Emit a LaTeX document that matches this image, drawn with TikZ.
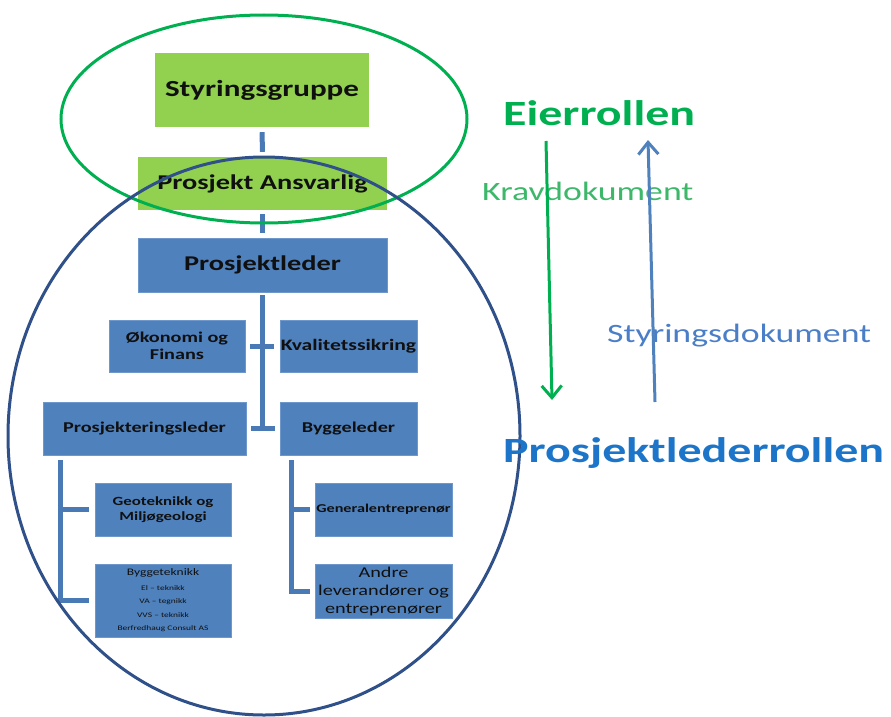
\documentclass[tikz,border=0pt]{standalone}
\usepackage{fontspec}
\setmainfont{Carlito}[FakeStretch=1.35]
\usetikzlibrary{arrows.meta}

\definecolor{boxgreen}{HTML}{92D050}
\definecolor{boxblue}{HTML}{4F81BD}
\definecolor{boxedge}{HTML}{6E97CC}
\definecolor{connblue}{HTML}{4A7AB5}
\definecolor{ringgreen}{HTML}{00B050}
\definecolor{ringblue}{HTML}{2F5088}
\definecolor{ownergreen}{HTML}{00B050}
\definecolor{reqgreen}{HTML}{3DB86A}
\definecolor{docblue}{HTML}{4A7EC8}
\definecolor{pmblue}{HTML}{1C75C8}
\definecolor{upblue}{HTML}{4F81BD}
\definecolor{boxtext}{HTML}{101010}

\newcommand{\fsz}[2]{\fontsize{#1}{#2}\selectfont}

\tikzset{
  gbox/.style={fill=boxgreen, inner sep=0pt, text=boxtext, align=center},
  bbox/.style={fill=boxblue, draw=boxedge, line width=0.8pt, inner sep=0pt, text=boxtext, align=center},
  conn/.style={draw=connblue, line width=5pt},
  ring/.style={line width=3pt},
  rolearrow/.style={line width=3pt, -{Straight Barb[length=12pt,width=20pt,line width=3pt]}},
}

\begin{document}
\begin{tikzpicture}[x=1pt, y=-1pt]
\useasboundingbox (0,0) rectangle (891,717);

% organisation boxes
\node[gbox, minimum width=214pt, minimum height=74pt, font=\bfseries\fsz{23}{27}] (styr) at (262,90)
  {Styringsgruppe};
\node[gbox, minimum width=249pt, minimum height=53pt, font=\bfseries\fsz{21}{25}] (pa) at (262.5,183.5)
  {Prosjekt Ansvarlig};
\node[bbox, minimum width=249pt, minimum height=54pt, font=\bfseries\fsz{21}{25}] (pl) at (262.5,265)
  {Prosjektleder};
\node[bbox, minimum width=136pt, minimum height=52pt, font=\bfseries\fsz{15}{17}] (oko) at (177,346)
  {Økonomi og\\Finans};
\node[bbox, minimum width=137pt, minimum height=52pt, font=\bfseries\fsz{16}{19}] (kval) at (348.5,346)
  {Kvalitetssikring};
\node[bbox, minimum width=203pt, minimum height=53pt, font=\bfseries\fsz{15}{18}] (prl) at (144.5,428.5)
  {Prosjekteringsleder};
\node[bbox, minimum width=137pt, minimum height=53pt, font=\bfseries\fsz{15}{18}] (bygl) at (348.5,428.5)
  {Byggeleder};
\node[bbox, minimum width=136pt, minimum height=53pt, font=\bfseries\fsz{12.5}{15}] (geo) at (163,509.5)
  {Geoteknikk og\\Miljøgeologi};
\node[bbox, minimum width=136pt, minimum height=73pt, font=\fsz{7}{13.5}] (byt) at (163,600.5)
  {{\fsz{10}{13}Byggeteknikk}\\[1pt]
   El – teknikk\\
   VA – tegnikk\\
   VVS – teknikk\\
   Berfredhaug Consult AS};
\node[bbox, minimum width=137pt, minimum height=53pt, font=\bfseries\fsz{12}{15}] (gen) at (383.5,509.5)
  {Generalentreprenør};
\node[bbox, minimum width=137pt, minimum height=54pt, font=\fsz{15}{18}] (andre) at (383.5,591)
  {Andre\\leverandører og\\entreprenører};

% connectors of the chart
\draw[conn] ([yshift=-5pt]styr.south) -- ([yshift=5pt]pa.north);
\draw[conn] ([yshift=-4pt]pa.south) -- ([yshift=5pt]pl.north);
\draw[conn] ([yshift=-3pt]pl.south) -- (pl.south |- prl.east);
\draw[conn] ([xshift=5pt]oko.east) -- ([xshift=-6pt]kval.west);
\draw[conn] ([xshift=5pt]prl.east) -- ([xshift=-5pt]bygl.west);

\coordinate (lt) at ([xshift=18pt,yshift=-5pt]prl.south west);
\draw[conn] (lt) |- ([xshift=-6pt]byt.west);
\draw[conn] (lt |- geo.west) -- ([xshift=-6pt]geo.west);

\coordinate (rt) at ([xshift=12pt,yshift=-5pt]bygl.south west);
\draw[conn] (rt) |- ([xshift=-5pt]andre.west);
\draw[conn] (rt |- gen.west) -- ([xshift=-5pt]gen.west);

% role rings
\draw[ring, ringgreen] (264,119) ellipse [x radius=203pt, y radius=104pt];
\draw[ring, ringblue] (264,436) ellipse [x radius=256pt, y radius=279pt];

% roles and documents
\node[anchor=base west, inner sep=0pt, text=ownergreen, font=\bfseries\fsz{35.5}{40}] (eier) at (503,125) {Eierrollen};
\node[anchor=base west, inner sep=0pt, text=pmblue, font=\bfseries\fsz{35.5}{40}] (pll) at (503,462) {Prosjektlederrollen};
\node[anchor=base west, inner sep=0pt, text=reqgreen, font=\fsz{26.5}{30}] (krav) at (482,200) {Kravdokument};
\node[anchor=base west, inner sep=0pt, text=docblue, font=\fsz{26.5}{30}] (sdok) at (607,342) {Styringsdokument};

% document flow between the two roles
\coordinate (gtop) at ([shift={(43,16)}]eier.base west);
\coordinate (gend) at ([shift={(49,-62)}]pll.base west);
\draw[rolearrow, ringgreen] (gtop) -- (gend);
\coordinate (bbot) at ([shift={(152,-60)}]pll.base west);
\coordinate (bend) at ([shift={(145,15)}]eier.base west);
\draw[rolearrow, upblue] (bbot) -- (bend);
\end{tikzpicture}
\end{document}
